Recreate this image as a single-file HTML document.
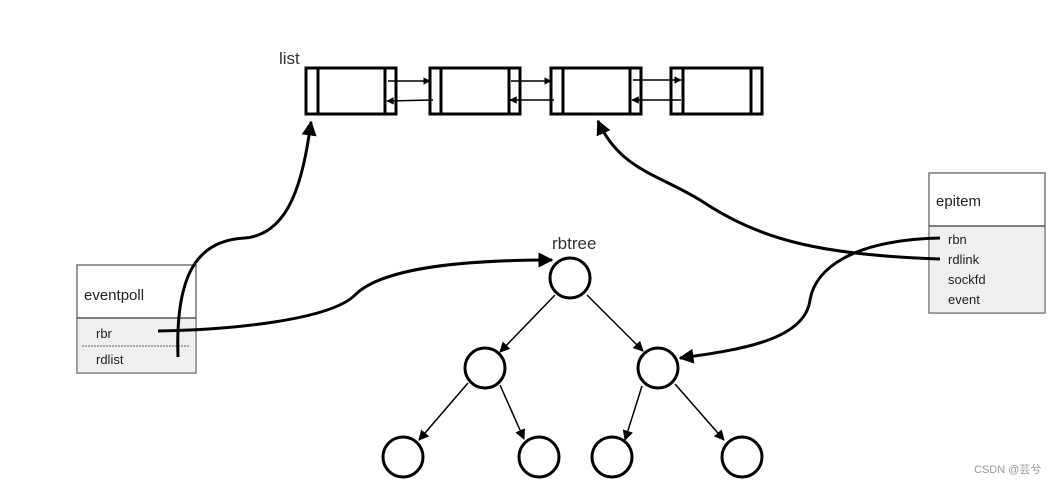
<!DOCTYPE html>
<html><head><style>body{margin:0;background:#fff}svg{display:block}text{font-family:"Liberation Sans",sans-serif}</style></head><body>
<svg width="1056" height="484" viewBox="0 0 1056 484" xmlns="http://www.w3.org/2000/svg">
<defs>
<marker id="a" viewBox="0 0 10 10" refX="9" refY="5" markerWidth="5" markerHeight="5" orient="auto"><path d="M0,0L10,5L0,10z" fill="#000"/></marker>
<marker id="b" viewBox="0 0 10 10" refX="9" refY="5" markerWidth="7" markerHeight="7" orient="auto"><path d="M0,0L10,5L0,10z" fill="#000"/></marker>
</defs>
<text x="279" y="64" font-size="17" fill="#333">list</text>
<g fill="none" stroke="#000" stroke-width="3">
<rect x="306" y="68" width="90" height="46"/><line x1="318" y1="68" x2="318" y2="114"/><line x1="385" y1="68" x2="385" y2="114"/>
<rect x="430" y="68" width="90" height="46"/><line x1="441" y1="68" x2="441" y2="114"/><line x1="509" y1="68" x2="509" y2="114"/>
<rect x="551" y="68" width="90" height="46"/><line x1="563" y1="68" x2="563" y2="114"/><line x1="630" y1="68" x2="630" y2="114"/>
<rect x="671" y="68" width="91" height="46"/><line x1="683" y1="68" x2="683" y2="114"/><line x1="751" y1="68" x2="751" y2="114"/>
</g>
<g stroke="#000" stroke-width="1.5" marker-end="url(#a)">
<line x1="388" y1="81" x2="430" y2="81"/><line x1="433" y1="100" x2="387" y2="101"/>
<line x1="511" y1="81" x2="551" y2="81"/><line x1="554" y1="100" x2="510" y2="100"/>
<line x1="633" y1="80" x2="681" y2="80"/><line x1="681" y1="100" x2="632" y2="100"/>
</g>
<rect x="77" y="265" width="119" height="108" fill="#fff" stroke="#777" stroke-width="1.5"/>
<rect x="77.75" y="318" width="117.5" height="54.25" fill="#efefef"/>
<line x1="77" y1="318" x2="196" y2="318" stroke="#555" stroke-width="1.5"/>
<line x1="82" y1="346" x2="190" y2="346" stroke="#666" stroke-dasharray="2,1"/>
<text x="84" y="300" font-size="15" fill="#222">eventpoll</text>
<text x="96" y="338" font-size="13" fill="#222">rbr</text>
<text x="96" y="364" font-size="13" fill="#222">rdlist</text>
<rect x="929" y="173" width="116" height="140" fill="#fff" stroke="#777" stroke-width="1.5"/>
<rect x="929.75" y="226" width="114.5" height="86.25" fill="#efefef"/>
<line x1="929" y1="226" x2="1045" y2="226" stroke="#555" stroke-width="1.5"/>
<text x="936" y="206" font-size="15" fill="#222">epitem</text>
<text x="948" y="244" font-size="13" fill="#222">rbn</text>
<text x="948" y="264" font-size="13" fill="#222">rdlink</text>
<text x="948" y="284" font-size="13" fill="#222">sockfd</text>
<text x="948" y="304" font-size="13" fill="#222">event</text>
<text x="552" y="249" font-size="17" fill="#333">rbtree</text>
<g fill="#fff" stroke="#000" stroke-width="3">
<circle cx="570" cy="278" r="20"/><circle cx="485" cy="368" r="20"/><circle cx="658" cy="368" r="20"/>
<circle cx="403" cy="457" r="20"/><circle cx="539" cy="457" r="20"/><circle cx="612" cy="457" r="20"/><circle cx="742" cy="457" r="20"/>
</g>
<g stroke="#000" stroke-width="1.5" marker-end="url(#b)">
<line x1="555" y1="295" x2="500" y2="352"/><line x1="587" y1="295" x2="643" y2="351"/>
<line x1="468" y1="383" x2="419" y2="440"/><line x1="500" y1="385" x2="524" y2="439"/>
<line x1="642" y1="386" x2="625" y2="440"/><line x1="675" y1="384" x2="724" y2="440"/>
</g>
<g fill="none" stroke="#000" stroke-width="3" marker-end="url(#b)">
<path d="M178,357 C175,270 200,240 245,238 C290,234 303,180 311,122" marker-end="url(#a)"/>
<path d="M158,331 C230,330 330,320 355,295 C380,270 450,260 552,260" marker-end="url(#a)"/>
<path d="M940,259 C820,255 760,240 700,200 C660,175 620,170 598,121" marker-end="url(#a)"/>
<path d="M940,238 C850,240 815,270 810,300 C805,340 740,350 680,358" marker-end="url(#a)"/>
</g>
<text x="974" y="473" font-size="11" fill="#999">CSDN @芸兮</text>
</svg>
</body></html>
